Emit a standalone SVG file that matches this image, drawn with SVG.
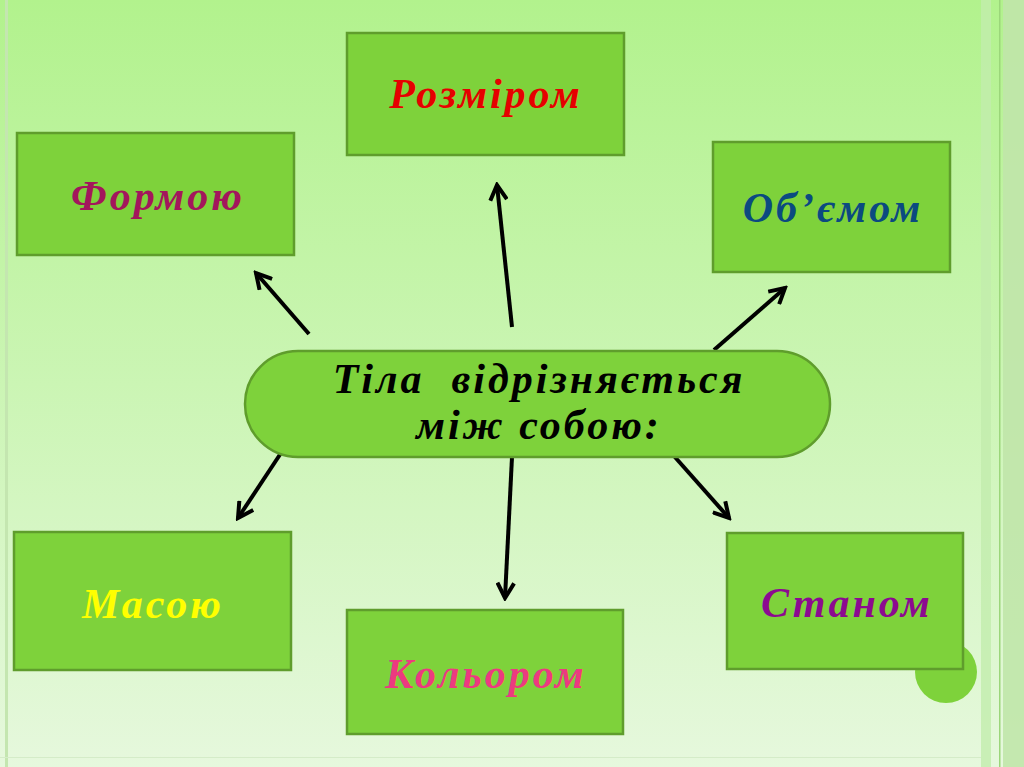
<svg xmlns="http://www.w3.org/2000/svg" width="1024" height="767" viewBox="0 0 1024 767">
<defs>
<linearGradient id="bg" x1="0" y1="0" x2="0" y2="1">
<stop offset="0" stop-color="#b2f28d"/>
<stop offset="0.5" stop-color="#cbf5b4"/>
<stop offset="1" stop-color="#e6f8dd"/>
</linearGradient>
<marker id="ah" viewBox="0 0 12 12" refX="10" refY="6" markerWidth="5" markerHeight="5" markerUnits="strokeWidth" orient="auto">
<polyline points="1,1 10,6 1,11" fill="none" stroke="#000" stroke-width="2.4"/>
</marker>
</defs>
<style>
.box{fill:#7ed23b;stroke:#5f9d2c;stroke-width:2.5}
.lbl{font-family:"Liberation Serif","Times New Roman",serif;font-weight:bold;font-style:italic;font-size:42px;letter-spacing:3px;text-anchor:middle;white-space:pre}
.arr{stroke:#000;stroke-width:4;fill:none;marker-end:url(#ah)}
</style>
<rect x="0" y="0" width="1024" height="767" fill="url(#bg)"/>
<rect x="5" y="0" width="3" height="767" fill="#c4e6b0"/>
<rect x="981" y="0" width="10" height="767" fill="#c2ecac" opacity="0.8"/>
<rect x="999" y="0" width="1.5" height="767" fill="#9bd67a"/>
<rect x="1003" y="0" width="21" height="767" fill="#c0e6aa" opacity="0.9"/>
<rect x="0" y="757" width="981" height="1" fill="#d4ecc8"/>
<circle cx="946" cy="672" r="31" fill="#7ed23b"/>
<g id="connectors">
<line class="arr" x1="309" y1="334" x2="256" y2="273"/>
<line class="arr" x1="512" y1="327" x2="497" y2="185"/>
<line class="arr" x1="714" y1="350" x2="785" y2="288"/>
<line class="arr" x1="281" y1="453" x2="238" y2="518"/>
<line class="arr" x1="512" y1="457" x2="505" y2="598"/>
<line class="arr" x1="674" y1="456" x2="729" y2="518"/>
</g>
<g id="center">
<rect class="box" x="245" y="351" width="585" height="106" rx="53" ry="53"/>
<text class="lbl" x="539" y="393" fill="#000" xml:space="preserve">Тіла  відрізняється</text>
<text class="lbl" x="539" y="439" fill="#000">між собою:</text>
</g>
<g id="formoyu">
<rect class="box" x="17" y="133" width="277" height="122"/>
<text class="lbl" x="158" y="210" fill="#a3165c">Формою</text>
</g>
<g id="rozmirom">
<rect class="box" x="347" y="33" width="277" height="122"/>
<text class="lbl" x="486" y="108" fill="#e60000">Розміром</text>
</g>
<g id="obyemom">
<rect class="box" x="713" y="142" width="237" height="130"/>
<text class="lbl" x="833" y="222" fill="#0b4a80">Об’ємом</text>
</g>
<g id="masoyu">
<rect class="box" x="14" y="532" width="277" height="138"/>
<text class="lbl" x="153" y="618" fill="#ffff00">Масою</text>
</g>
<g id="kolyorom">
<rect class="box" x="347" y="610" width="276" height="124"/>
<text class="lbl" x="486" y="688" fill="#ec3a80">Кольором</text>
</g>
<g id="stanom">
<rect class="box" x="727" y="533" width="236" height="136"/>
<text class="lbl" x="847" y="617" fill="#8c0a90">Станом</text>
</g>
</svg>
